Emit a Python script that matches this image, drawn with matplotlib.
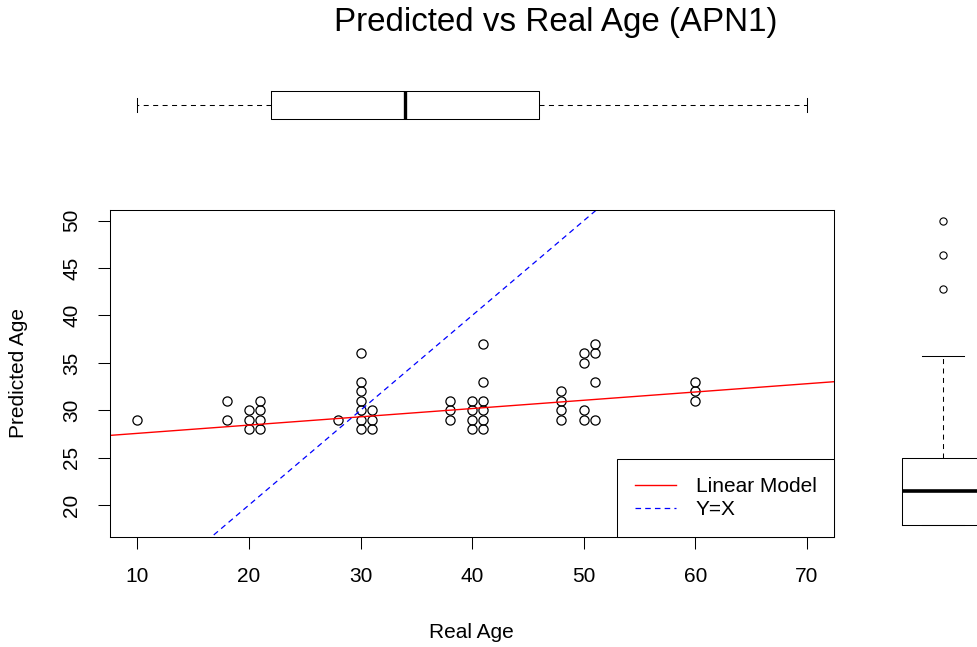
import numpy as np
import matplotlib
matplotlib.use("Agg")
import matplotlib.pyplot as plt

plt.rcParams['font.family'] = ['Liberation Sans', 'DejaVu Sans']
plt.rcParams['lines.scale_dashes'] = False

# scatter data: real age vs predicted age
real_age = [10, 18, 18, 20, 20, 20, 21, 21, 21, 21, 28,
            30, 30, 30, 30, 30, 30, 30, 31, 31, 31,
            38, 38, 38, 40, 40, 40, 40, 41, 41, 41, 41, 41, 41,
            48, 48, 48, 48, 50, 50, 50, 50, 51, 51, 51, 51, 60, 60, 60]
pred_age = [29, 31, 29, 30, 29, 28, 31, 30, 29, 28, 29,
            36, 33, 32, 31, 30, 29, 28, 30, 29, 28,
            31, 30, 29, 31, 30, 29, 28, 37, 33, 31, 30, 29, 28,
            32, 31, 30, 29, 36, 35, 30, 29, 37, 36, 33, 29, 33, 32, 31]

# linear model
lm_intercept = 26.69
lm_slope = 0.0873

# marginal boxplots (summary stats)
top_box = dict(whislo=10, q1=22, med=34, q3=46, whishi=70, fliers=[])
right_box = dict(whislo=17.9, q1=17.9, med=21.5, q3=25.0, whishi=35.7,
                 fliers=[50.0, 46.4, 42.8])

x_ticks = [10, 20, 30, 40, 50, 60, 70]
y_ticks = [20, 25, 30, 35, 40, 45, 50]
xlim = (7.55, 72.45)
ylim = (16.66, 51.13)

W, H = 978, 647
fig = plt.figure(figsize=(W / 100, H / 100), dpi=100)

def px_axes(l, t, r, b):
    return fig.add_axes([l / W, 1 - b / H, (r - l) / W, (b - t) / H])

lw = 0.75

# ---- main scatter ----
ax = px_axes(110, 210, 834.3, 536.7)
ax.plot(real_age, pred_age, 'o', ms=6.6, mfc='none', mec='black', mew=0.9,
        linestyle='None')
xs = np.array(xlim)
ax.plot(xs, lm_intercept + lm_slope * xs, color='#FF0000', lw=1.0,
        label='Linear Model')
ax.plot(xs, xs, color='#0000FF', lw=0.9, linestyle=(0, (4, 3)), label='Y=X')
ax.set_xlim(*xlim)
ax.set_ylim(*ylim)
ax.set_xticks(x_ticks)
ax.set_yticks(y_ticks)
for s in ax.spines.values():
    s.set_linewidth(lw)
ax.tick_params(axis='both', direction='out', length=8.6, width=lw,
               labelsize=15)
ax.tick_params(axis='x', pad=13)
ax.tick_params(axis='y', pad=12, labelrotation=90)
for t in ax.get_yticklabels():
    t.set_va('center')

leg = ax.legend(loc='lower right', bbox_to_anchor=(1, 0), borderaxespad=0,
                fontsize=15, fancybox=False, framealpha=1, edgecolor='black',
                handlelength=1.97, handletextpad=0.96, borderpad=0.85,
                labelspacing=0.2)
leg.get_frame().set_linewidth(lw)

# ---- top boxplot (real age) ----
axt = px_axes(110, 60, 834.3, 150)
axt.set_xlim(*xlim)
axt.set_ylim(150, 60)
axt.bxp([top_box], positions=[105], widths=28.6, capwidths=14.4, vert=False,
        showfliers=False,
        boxprops=dict(color='black', lw=lw),
        whiskerprops=dict(color='black', lw=lw, linestyle=(0, (3.6, 3.2))),
        capprops=dict(color='black', lw=lw),
        medianprops=dict(color='black', lw=2.4, solid_capstyle='butt'))
axt.axis('off')

# ---- right boxplot ----
axr = px_axes(860, 210, 1040, 536.7)
axr.set_xlim(860, 1040)
axr.set_ylim(*ylim)
axr.bxp([right_box], positions=[943], widths=82, capwidths=43,
        showfliers=True,
        boxprops=dict(color='black', lw=lw),
        whiskerprops=dict(color='black', lw=lw, linestyle=(0, (3.6, 3.2))),
        capprops=dict(color='black', lw=lw),
        medianprops=dict(color='black', lw=2.6, solid_capstyle='butt'),
        flierprops=dict(marker='o', ms=5.2, mfc='none', mec='black', mew=0.8))
axr.axis('off')

# ---- texts ----
fig.text(555.5 / W, 1 - 22 / H, 'Predicted vs Real Age (APN1)', fontsize=23.9,
         ha='center', va='center')
fig.text(471 / W, 1 - 632 / H, 'Real Age', fontsize=15, ha='center',
         va='center')
fig.text(19 / W, 1 - 373 / H, 'Predicted Age', fontsize=15, ha='center',
         va='center', rotation=90)

fig.savefig('out.png', dpi=100)
